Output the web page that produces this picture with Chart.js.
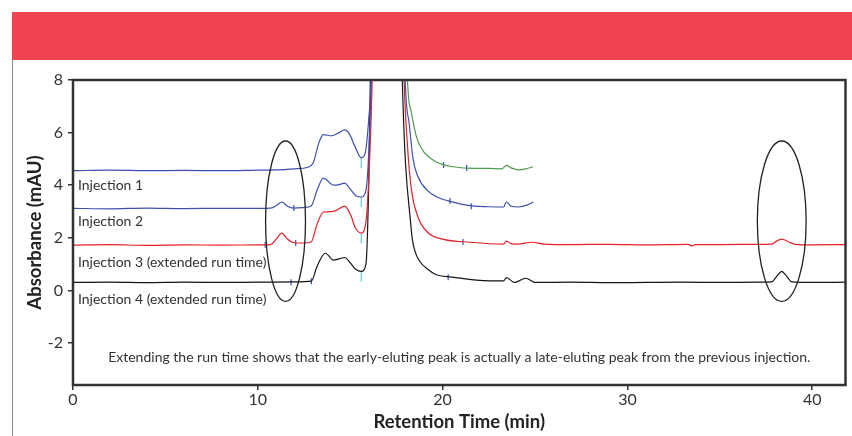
<!DOCTYPE html>
<html>
<head>
<meta charset="utf-8">
<script src="https://cdn.jsdelivr.net/npm/chart.js@4"></script>
<style>
  html, body { margin: 0; padding: 0; background: #fff; }
  #wrap { position: relative; width: 852px; height: 436px; overflow: hidden; }
  #banner { position: absolute; left: 12px; top: 12px; width: 840px; height: 48px; background: #ef4350; }
  #edge { position: absolute; left: 12px; top: 60px; width: 1px; height: 376px; background: #8c8c8c; }
  canvas { position: absolute; left: 0; top: 0; }
</style>
</head>
<body>
<div id="wrap">
  <div id="banner"></div>
  <div id="edge"></div>
  <canvas id="myChart" width="852" height="436"></canvas>
</div>
<script>
// retention time (min) and absorbance (mAU)
let inj1Time = [0, 2, 4, 6, 8, 10, 11, 12, 12.7, 13.0, 13.3, 13.55, 14.0, 14.4, 14.7, 14.95, 15.3, 15.6, 15.8, 16.0, 16.15, 16.6,
  17.5, 18.1, 18.3, 18.6, 19.0, 19.5, 20.05, 20.6, 21.3, 22.5, 23.2, 23.45, 23.7, 24.1, 24.5, 24.9];
let inj1Abs = [4.55, 4.57, 4.55, 4.56, 4.55, 4.57, 4.58, 4.62, 4.68, 4.85, 5.6, 5.92, 5.88, 6.0, 6.1, 5.95, 5.4, 5.04, 5.2, 6.5, 8.5, 30,
  30, 8.0, 6.8, 5.8, 5.25, 4.95, 4.77, 4.7, 4.65, 4.64, 4.62, 4.75, 4.66, 4.58, 4.62, 4.7];

let inj2Time = [0, 2, 4, 6, 8, 10, 10.7, 11.0, 11.3, 11.6, 11.95, 12.5, 12.9, 13.2, 13.55, 14.1, 14.4, 14.7, 15.0, 15.3, 15.6, 15.85, 16.05, 16.15, 16.6,
  17.5, 17.95, 18.2, 18.4, 18.65, 19.2, 19.7, 20.3, 21.0, 21.7, 22.5, 23.3, 23.45, 23.7, 24.1, 24.6, 24.9];
let inj2Abs = [3.12, 3.1, 3.13, 3.11, 3.12, 3.12, 3.13, 3.22, 3.36, 3.2, 3.13, 3.15, 3.22, 3.8, 4.27, 4.0, 4.02, 4.08, 3.85, 3.6, 3.55, 3.8, 6.0, 8.5, 30,
  30, 8.5, 6.3, 5.0, 4.35, 3.78, 3.55, 3.4, 3.28, 3.2, 3.18, 3.17, 3.36, 3.2, 3.17, 3.25, 3.36];

let inj3Time = [0, 2, 4, 6, 8, 10, 10.7, 11.0, 11.3, 11.6, 11.9, 12.5, 12.9, 13.2, 13.55, 14.1, 14.7, 15.0, 15.3, 15.6, 15.85, 16.05, 16.2, 16.6,
  17.4, 17.9, 18.1, 18.3, 18.65, 19.2, 20.0, 21.5, 23.3, 23.45, 23.7, 24.1, 24.8, 25.5, 27, 29, 31, 33.3, 33.5, 33.7, 35, 37, 37.8, 38.1, 38.35, 38.7, 39.1, 40, 41.8];
let inj3Abs = [1.72, 1.74, 1.71, 1.73, 1.72, 1.73, 1.74, 1.95, 2.18, 1.95, 1.82, 1.8, 1.85, 2.5, 2.98, 3.0, 3.2, 2.9, 2.35, 2.18, 2.6, 5.0, 8.5, 30,
  30, 8.5, 5.5, 3.9, 2.82, 2.2, 1.95, 1.83, 1.76, 1.87, 1.78, 1.76, 1.83, 1.76, 1.74, 1.75, 1.73, 1.75, 1.69, 1.74, 1.74, 1.75, 1.76, 1.88, 1.95, 1.85, 1.75, 1.73, 1.74];

let inj4Time = [0, 2, 4, 6, 8, 10, 12, 12.9, 13.2, 13.65, 14.1, 14.4, 14.7, 15.0, 15.3, 15.6, 15.85, 16.0, 16.1, 16.6,
  17.3, 17.8, 18.3, 18.5, 18.8, 19.2, 19.6, 20.5, 22.0, 23.3, 23.45, 23.9, 24.5, 25.0, 27, 29, 31, 33, 35, 37, 37.8, 38.1, 38.35, 38.6, 38.9, 40, 41.8];
let inj4Abs = [0.3, 0.31, 0.29, 0.31, 0.3, 0.31, 0.32, 0.35, 0.9, 1.41, 1.15, 1.2, 1.25, 1.05, 0.8, 0.72, 1.0, 4.0, 8.5, 30,
  30, 8.5, 2.33, 1.5, 1.07, 0.8, 0.61, 0.5, 0.38, 0.36, 0.48, 0.3, 0.46, 0.3, 0.31, 0.29, 0.3, 0.31, 0.3, 0.31, 0.32, 0.55, 0.72, 0.55, 0.32, 0.3, 0.31];

// integration marks on the traces
let valleyTime = [15.6, 15.6, 15.6, 15.6];
let valleyAbs = [4.84, 3.35, 1.98, 0.52];
let eventTime = [11.95, 20.4, 21.55, 10.4, 12.05, 21.1, 11.8, 12.9, 20.3, 20.05, 21.3];
let eventAbs = [3.13, 3.4, 3.2, 1.73, 1.8, 1.84, 0.31, 0.35, 0.5, 4.77, 4.65];

let xTicks = [0, 10, 20, 30, 40];
let yTicks = [-2, 0, 2, 4, 6, 8];

let traceLabels = [
  { text: "Injection 1", x: 0.27, y: 4.0 },
  { text: "Injection 2", x: 0.27, y: 2.6 },
  { text: "Injection 3 (extended run time)", x: 0.27, y: 1.07 },
  { text: "Injection 4 (extended run time)", x: 0.27, y: -0.34 },
];
let noteText = "Extending the run time shows that the early-eluting peak is actually a late-eluting peak from the previous injection.";

// circled peaks: centre and half-sizes in data units
let circles = [
  { x: 11.5, y: 2.63, rx: 1.08, ry: 3.05 },
  { x: 38.35, y: 2.63, rx: 1.32, ry: 3.05 },
];

const pairs = (t, v) => t.map((x, i) => ({ x: x, y: v[i] }));
const FONT = "Lato, 'Open Sans', sans-serif";

let ctx = document.getElementById("myChart").getContext("2d");

let extras = {
  id: "extras",
  afterDatasetsDraw(chart) {
    const c = chart.ctx;
    const xs = chart.scales.x, ys = chart.scales.y;
    const a = chart.chartArea;
    c.save();
    c.strokeStyle = "#222";
    c.lineWidth = 1.3;
    circles.forEach((e) => {
      const cx = xs.getPixelForValue(e.x), cy = ys.getPixelForValue(e.y);
      const rx = xs.getPixelForValue(e.x + e.rx) - cx;
      const ry = cy - ys.getPixelForValue(e.y + e.ry);
      c.beginPath();
      c.ellipse(cx, cy, rx, ry, 0, 0, Math.PI * 2);
      c.stroke();
    });
    c.fillStyle = "#333";
    c.font = "14px " + FONT;
    c.textBaseline = "middle";
    c.textAlign = "left";
    traceLabels.forEach((l) => {
      c.fillText(l.text, xs.getPixelForValue(l.x), ys.getPixelForValue(l.y));
    });
    c.textAlign = "center";
    c.fillText(noteText, (a.left + a.right) / 2, ys.getPixelForValue(-2.56));
    c.strokeStyle = "#333";
    c.lineWidth = 2.5;
    c.strokeRect(a.left, a.top, a.right - a.left, a.bottom - a.top);
    c.restore();
  },
};

let massChart = new Chart(ctx, {
  type: "line",
  data: {
    datasets: [
      {
        label: "Injection 1",
        data: pairs(inj1Time, inj1Abs),
        borderColor: "#3f4fae",
        segment: { borderColor: (s) => (s.p0.parsed.x >= 17 ? "#4f9a4f" : undefined) },
      },
      { label: "Injection 2", data: pairs(inj2Time, inj2Abs), borderColor: "#3f4fae" },
      { label: "Injection 3", data: pairs(inj3Time, inj3Abs), borderColor: "#e3202c" },
      { label: "Injection 4", data: pairs(inj4Time, inj4Abs), borderColor: "#151515" },
      {
        type: "scatter",
        label: "valleys",
        data: pairs(valleyTime, valleyAbs),
        pointStyle: "line",
        rotation: 90,
        pointRadius: 5,
        borderColor: "#7fd4e0",
        borderWidth: 1.5,
        showLine: false,
      },
      {
        type: "scatter",
        label: "events",
        data: pairs(eventTime, eventAbs),
        pointStyle: "line",
        rotation: 90,
        pointRadius: 3,
        borderColor: "#3550b5",
        borderWidth: 1.2,
        showLine: false,
      },
    ],
  },
  options: {
    responsive: false,
    animation: false,
    layout: { padding: { top: 80, right: 2, bottom: 0, left: 0 } },
    elements: {
      line: { borderWidth: 1.2, cubicInterpolationMode: "monotone" },
      point: { radius: 0 },
    },
    plugins: { legend: { display: false }, tooltip: { enabled: false } },
    scales: {
      x: {
        type: "linear",
        min: 0,
        max: 41.8,
        afterFit: (s) => { s.height = 51; },
        afterBuildTicks: (s) => { s.ticks = xTicks.map((v) => ({ value: v })); },
        grid: { drawOnChartArea: false, tickLength: 5, color: "#333", lineWidth: 1.5 },
        border: { display: false },
        ticks: { color: "#333", padding: 0, font: { family: FONT, size: 16 } },
        title: {
          display: true,
          text: "Retention Time (min)",
          color: "#222",
          font: { family: FONT, size: 18.5, weight: "bold" },
          padding: { top: 0, bottom: 3 },
        },
      },
      y: {
        min: -3.6,
        max: 8,
        afterFit: (s) => { s.width = 73; },
        afterBuildTicks: (s) => { s.ticks = yTicks.map((v) => ({ value: v })); },
        grid: { drawOnChartArea: false, tickLength: 5, color: "#333", lineWidth: 1.5 },
        border: { display: false },
        ticks: { color: "#333", padding: 5, font: { family: FONT, size: 16 } },
        title: {
          display: true,
          text: "Absorbance (mAU)",
          color: "#222",
          font: { family: FONT, size: 18.5, weight: "bold" },
          padding: { top: 24, bottom: 0 },
        },
      },
    },
  },
  plugins: [extras],
});
</script>
</body>
</html>
